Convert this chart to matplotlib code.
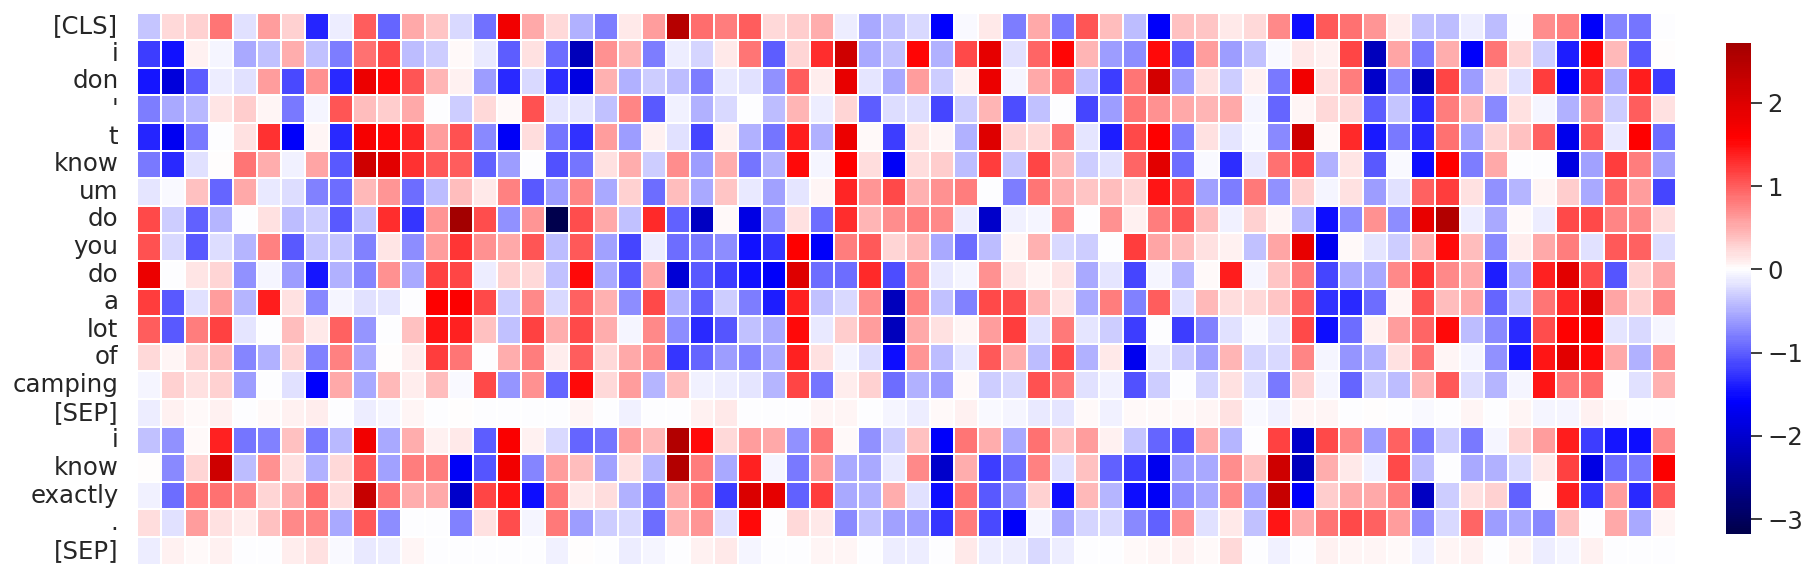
import numpy as np
import matplotlib
matplotlib.use('Agg')
import matplotlib.pyplot as plt
import seaborn as sns

tokens = ['[CLS]', 'i', 'don', "'", 't', 'know', 'um', 'do', 'you', 'do', 'a', 'lot', 'of',
          'camping', '[SEP]', 'i', 'know', 'exactly', '.', '[SEP]']

# one list per token
r00 = [-.35,.25,.3,.85,-.2,.6,.3,-1.35,-.1,1.0,-.95,.55,.35,-.25,-.88,1.75,.53,.25,-.47,-.8,
       .13,.62,2.48,.9,.8,1.0,.25,.32,.5,-.1,-.53,-.37,-.25,-1.6,-.03,.12,-.8,.55,-.85,1.05,.4,-.4,-1.62,.37,
       .35,.13,.25,.72,-1.5,1.03,.88,.65,.1,-.37,-.4,-.1,-.4,0,.7,.77,-1.62,-.75,-.87,0]
r01 = [-1.22,-1.47,.08,-.05,-.55,-.37,.5,-.37,-.8,.88,1.12,-.4,-.3,.03,-.14,-1.0,.2,-.9,-2.2,.67,
       .46,-.8,-.1,-.27,.13,.85,-1.0,.27,1.3,2.2,-.55,-.37,1.55,-.5,1.12,1.9,-.2,.95,1.55,.45,-.6,-.7,1.5,-1.03,
       .6,-.6,-.37,-.03,.12,.07,1.15,-2.15,.57,-.85,.5,-1.62,.85,.27,-.3,-1.4,1.5,.42,-1.03,.02]
r02 = [-1.45,-1.9,-1.0,-.1,-.2,.6,-1.12,.67,-1.33,1.8,1.52,1.05,.45,.08,-.6,-1.33,-.25,-1.3,-1.85,.47,
       -.47,-.3,-.4,-.8,-.14,-.2,-.67,1.0,.1,1.85,-.17,-.55,.6,-.3,.08,1.8,-.05,.53,.9,-.37,-1.22,.87,2.1,-.6,
       .2,-.3,.07,-.85,1.75,.2,.8,-2.05,-.75,-2.15,1.15,-.6,.2,-.2,1.22,-1.62,1.32,-.53,1.4,-1.22]
r03 = [-.8,-.53,-.43,.14,.32,.06,-.85,-.05,1.05,.4,.32,.53,-.02,-.3,.25,.04,1.08,-.17,-.17,-.37,
       .75,-1.03,-.08,-.47,-.25,0,-.4,.45,-.1,.27,-1.0,-.22,-.22,-1.17,-.3,.45,-1.1,-.37,0,-1.17,-.6,.85,.68,.53,
       .45,.53,-.06,-.95,.06,.25,.25,-1.0,-.35,-1.3,.8,.42,-.72,.2,-.05,-.5,.7,-.3,1.0,.2]
r04 = [-1.35,-1.7,-.85,0,.2,1.27,-1.62,.05,-1.33,1.7,1.5,1.35,.6,1.08,-.72,-1.65,.22,-.87,-1.27,.6,
       -.6,.09,-.2,-1.15,.08,-.5,-.87,1.4,-.5,1.8,.03,-1.2,.14,.05,-.5,2.0,.27,.25,.85,-.17,-1.4,1.12,1.6,-.8,
       .17,-.17,-.03,-.72,2.2,.03,1.32,-1.42,-.85,-1.33,.88,-.58,.27,.37,.97,-1.75,1.05,-.14,1.6,-.9]
r05 = [-.85,-1.33,-.2,.02,.85,.5,-.08,.57,-1.03,2.2,1.95,1.27,1.03,1.0,-.97,-.6,0,-1.07,-.87,.17,
       .5,-.3,.7,-.6,.5,-.87,-.5,1.52,-.05,1.6,.22,-1.65,.22,.32,-.4,1.2,-.35,1.15,.42,-.32,-.2,.95,1.95,-.9,
       -.03,-1.3,-.14,.88,1.15,-.47,.14,-1.03,-.03,-1.5,1.6,-.8,.53,-.01,0,-1.85,-.58,1.2,.8,-.58]
r06 = [-.17,-.03,.37,-.95,.53,-.14,-.22,-.77,-.92,.42,.65,-.92,-.4,.4,.13,.77,-1.03,-.6,.75,-.53,
       .3,-.9,.4,-.53,.35,-.14,-.58,-.17,.05,1.35,.65,1.12,.47,.68,.8,0,-.8,.87,.5,.35,.4,.27,1.45,1.12,
       -.58,-.8,.82,-.68,.3,-.05,.2,-.6,-.2,.97,1.2,.2,-.68,-.45,.06,.32,-.53,.95,.6,-1.17]
r07 = [1.12,-.3,-.97,-.45,0,.2,-.4,-.32,-1.03,-.37,1.3,-1.25,.65,2.72,1.1,-.68,.65,-3.18,1.1,.53,
       -.37,1.32,-.97,-2.1,.03,-1.8,-.68,.2,-.92,1.3,.45,.7,.8,.72,-.1,-2.05,-.08,-.05,.75,0,.68,.07,.8,1.05,
       .4,-.07,.3,.05,-.45,-1.5,-.7,.68,-.7,1.85,2.55,-.1,-.55,.03,-.1,1.12,1.12,.75,.72,.22]
r08 = [1.08,-.25,-1.03,-.22,-.45,.77,-1.03,-.35,-.35,-.77,.14,-.7,.6,1.25,.68,.53,1.05,-.4,1.03,-.58,
       -1.17,-.1,-.9,-.85,-.7,-1.47,-1.25,1.6,-1.62,.8,1.03,.27,.42,-.55,-.92,-.4,.05,.47,-.25,-.32,-.02,1.2,.57,.4,
       .2,.09,-.37,.57,1.85,-1.72,.03,-.17,-.32,.47,1.52,.4,-.72,.11,.55,.8,-.2,1.03,.97,-.22]
r09 = [1.8,-.02,.14,.27,-.68,-.05,-.6,-1.45,-.5,-.75,.68,-.55,1.17,1.15,-.1,.3,.25,-.37,1.5,-.53,
       -1.03,.57,-1.95,-1.03,-1.2,-1.47,-1.62,2.0,-.92,-.92,1.32,-1.1,.72,-.14,-.05,.68,.14,.05,.14,-.55,-.17,-1.17,-.05,-.45,
       .03,1.4,-.05,.35,.8,-1.17,-.55,-.55,.72,1.27,.72,.53,-1.4,-.53,1.37,1.95,1.1,-1.05,.27,.57]
r10 = [1.22,-1.03,-.2,.6,-.45,1.4,.2,-.72,-.05,-.2,-.17,0,1.6,1.62,1.12,-.3,.72,-.25,.97,.47,
       -.7,1.12,-.47,-.97,-.3,-.8,-1.4,1.37,-.37,-.25,.7,-2.15,.77,-.37,-.77,1.12,1.1,.45,.14,-.53,.8,-.77,1.0,-.2,
       .42,.22,.24,.35,.97,-1.27,-1.33,-.9,.05,1.08,.4,.53,-.95,-.35,.87,1.32,2.0,.57,.3,.72]
r11 = [1.0,-1.03,.8,1.17,-.17,0,.4,.12,.97,-.65,0,.37,1.45,1.37,.37,-.37,1.17,.5,1.12,.5,
       -.05,.72,-.7,-1.33,-1.05,-.37,-.55,1.5,-.14,.32,.6,-2.15,.55,.17,.05,.6,1.2,-.2,.82,-.17,-.32,-1.2,0,-1.2,
       -.77,-.2,-.03,-.17,1.12,-1.5,-.9,.08,.6,.95,1.5,-.4,-.72,-1.33,1.1,1.58,1.65,-.17,-.25,-.05]
r12 = [.25,.05,.3,.4,-.75,-.5,.27,-.77,.77,-.53,.02,.1,1.2,.85,0,.5,.8,.11,1.0,.25,
       .53,.7,-1.25,-.95,-.6,-.77,-.55,1.37,.2,-.06,-.22,-1.5,.65,-.4,-.14,1.03,.5,-.4,1.12,-.47,.13,-1.72,-.14,-.32,
       -.58,.45,-.27,-.25,.75,-.05,-.65,-.5,.17,.88,.05,-.05,-.68,-1.45,1.45,1.95,1.5,.53,-.47,.68]
r13 = [-.05,.3,.17,.3,-.6,-.02,-.2,-1.6,.55,-.53,.42,.1,.4,-.03,1.12,-.65,.68,-.95,1.5,.25,
       .6,-.45,.4,-.08,-.1,-.17,-.45,1.15,-.87,.11,.3,-.9,-.47,-.6,.03,-.32,-.25,1.07,.82,-.2,-.08,-1.07,-.3,0,
       -.27,.17,-.2,-.82,.3,-.05,-.95,-.32,-.4,.45,1.03,-.22,-.45,-.05,1.45,.82,.92,0,-.2,.47]
r14 = [-.1,.09,.04,.07,0,.03,.07,.11,0,-.1,-.05,.05,0,.02,0,0,0,-.02,.05,0,
       -.07,0,0,.08,.13,-.02,0,0,.05,.06,0,-.05,-.1,.03,.08,-.03,-.05,-.14,-.17,.03,-.07,.03,.03,.03,
       .05,.17,-.03,-.07,.05,.05,0,.02,-.02,-.03,-.01,.05,0,.06,-.05,-.05,.07,.04,0,-.02]
r15 = [-.37,-.68,.03,1.37,-.87,-.77,.37,-.82,-.42,1.75,-.55,.5,.07,.13,-1.0,1.65,.07,-.25,-.95,-.87,
       .6,.42,2.55,1.52,.25,.6,.55,-.68,.85,.03,-.68,-.32,.37,-1.62,.85,.5,-.55,.88,.37,.6,.07,-.35,-.95,-1.05,
       .5,-.45,0,1.17,-2.05,1.12,.75,-.6,.97,-.82,-.3,-.82,-.05,.27,.62,1.4,-1.22,-1.45,-1.5,.72]
r16 = [.02,-.72,.27,2.2,-.4,.68,.2,-.47,.25,1.05,-.58,.8,.8,-1.65,-1.05,1.75,-.75,.6,.4,-.58,
       .17,-.45,2.5,.8,-.53,1.37,-.05,-.82,.6,-.53,-.55,-.14,.72,-2.05,.5,-1.22,-.92,.77,-.2,.37,-.97,-1.22,-1.72,-.58,
       -.55,.7,.37,2.2,-2.15,.5,.13,-.08,1.12,-.4,0,-.55,-.5,-.25,.13,1.17,-1.8,-.92,-.82,1.62]
r17 = [-.07,-.9,.88,.88,.75,.27,.55,.92,.22,2.3,.87,.5,.55,-2.05,1.15,1.45,-1.5,.82,.13,.22,
       -.5,-.82,.53,.85,-1.2,2.05,1.9,-.97,1.2,-.53,-.5,.5,-.2,-1.5,.85,-1.03,-.7,.3,-1.5,.42,-.45,-1.5,-1.65,-.7,
       -.53,.72,-.58,2.3,-1.62,.32,.53,.53,.8,-2.1,-.32,.2,.3,-.97,.02,1.37,-1.25,.62,-1.33,1.03]
r18 = [.22,-.2,.6,.17,.1,.37,.72,.77,-.53,1.03,-.7,0,0,-.77,.2,1.1,-.05,.82,-.6,-.32,
       -.25,-.92,.47,.65,-.2,1.52,0,.25,.13,-.72,-.37,-.58,-.62,-1.25,.8,-1.12,-1.62,-.05,-.53,-.27,-.25,-.72,-.97,.68,
       -.2,.13,-.37,1.45,.53,.87,1.12,.97,.62,-.7,-.25,.95,-.6,-.55,-.72,.37,0,.53,-.53,.06]
r19 = [-.1,.09,.03,.08,0,0,.1,.2,-.03,-.14,-.1,.05,0,0,0,0,0,-.07,.02,0,
       -.1,-.05,0,.09,.12,-.05,0,0,.05,.06,0,-.1,-.1,0,.13,-.1,-.1,-.25,-.1,0,-.02,.03,.05,.09,
       .03,.25,-.02,-.07,0,.09,.06,.05,.03,-.07,.05,.07,0,.06,-.1,-.05,.08,0,-.02,0]

scores = np.array([r00, r01, r02, r03, r04, r05, r06, r07, r08, r09,
                   r10, r11, r12, r13, r14, r15, r16, r17, r18, r19])

W, H = 1815, 578
sns.set_theme(style='white', font_scale=1.0)
plt.rcParams['font.size'] = 17.6

fig = plt.figure(figsize=(W / 100, H / 100), dpi=100)
ax = fig.add_axes([136.5 / W, 1 - 564.5 / H, (1676 - 136.5) / W, (564.5 - 12.5) / H])
cax = fig.add_axes([1726 / W, 1 - 534 / H, 25 / W, 491 / H])

sns.heatmap(scores, ax=ax, cbar_ax=cax, cmap='seismic', center=0, linewidths=1.4, linecolor='white',
            xticklabels=False, yticklabels=tokens)
ax.tick_params(axis='y', length=0, labelsize=17.6, labelrotation=0, pad=13, colors='.15')
ax.set_yticklabels(tokens, rotation=0, va='center')

cax.set_yticks([-3, -2, -1, 0, 1, 2])
cax.tick_params(axis='y', right=True, length=7.7, width=1.25, pad=4.2, labelsize=17.6, colors='.15')

fig.savefig('out.png', dpi=100)
